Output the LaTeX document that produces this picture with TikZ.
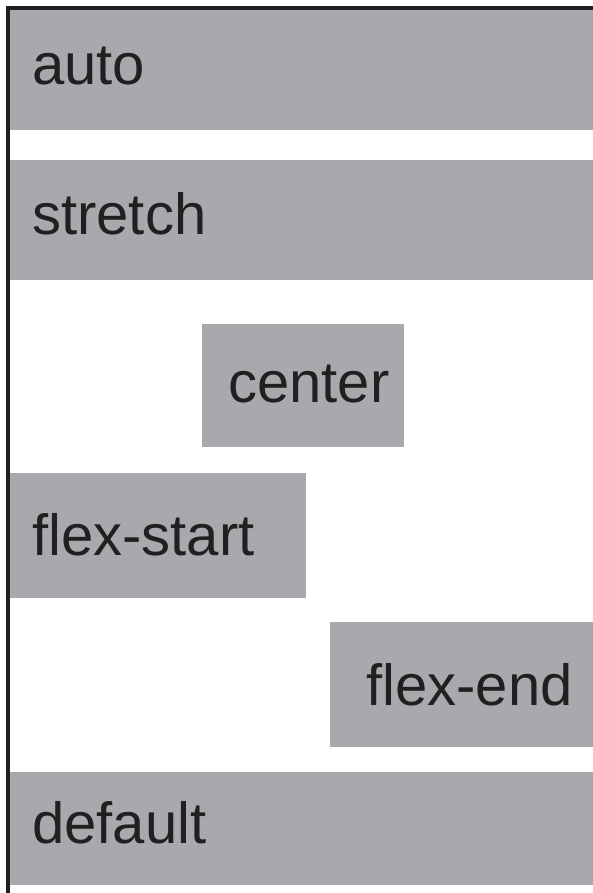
\documentclass[tikz,border=0pt]{standalone}
\usepackage{fontspec}
\setmainfont{Liberation Sans}
\usetikzlibrary{positioning}
\definecolor{bargray}{HTML}{A8A9AD}
\definecolor{edgeblack}{HTML}{231F20}
\tikzset{bar/.style={fill=bargray, inner sep=0pt, anchor=north west},
         barlabel/.style={anchor=base west, inner sep=0pt, text=edgeblack, font=\fontsize{58}{58}\selectfont}}

\begin{document}
\begin{tikzpicture}[x=1pt,y=-1pt]
          \useasboundingbox (0,0) rectangle (593,893);
          % bars
          \node [bar, minimum width=583pt, minimum height=120pt] (auto) at (10,10) {};
          \node [bar, minimum width=583pt, minimum height=120pt] (stretch) at (10,160) {};
          \node [bar, minimum width=202pt, minimum height=123pt] (center) at (202,324) {};
          \node [bar, minimum width=296pt, minimum height=125pt] (flexstart) at (10,473) {};
          \node [bar, minimum width=263pt, minimum height=125pt] (flexend) at (330,622) {};
          \node [bar, minimum width=583pt, minimum height=113pt] (default) at (10,772) {};
          % labels
          \node [barlabel] (autolabel) at (32,85) {auto};
          \node [barlabel] (stretchlabel) at (32,235) {stretch};
          \node [barlabel] (centerlabel) at (228,402) {center};
          \node [barlabel] (flexstartlabel) at (32,555) {flex-start};
          \node [barlabel] (flexendlabel) at (366,705) {flex-end};
          \node [barlabel] (defaultlabel) at (32,843) {default};
          % container edge
          \draw[edgeblack, line width=4pt] (8,893) |- (593,8);
        \end{tikzpicture}
\end{document}
